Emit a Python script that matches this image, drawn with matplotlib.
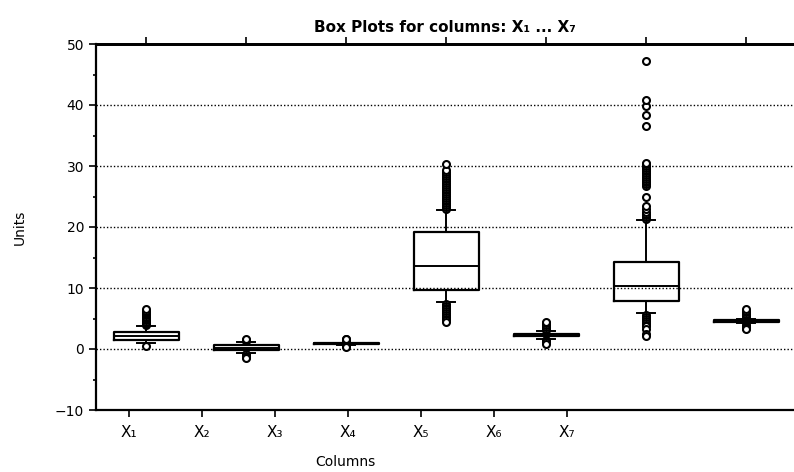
import matplotlib.pyplot as plt

# box statistics
labels = ['X₁', 'X₂', 'X₃', 'X₄', 'X₅', 'X₆', 'X₇']
q1 = [1.4, -0.2, 0.75, 9.6, 2.15, 7.9, 4.5]
med = [2.1, 0.1, 0.85, 13.6, 2.3, 10.3, 4.6]
q3 = [2.85, 0.6, 0.95, 19.1, 2.45, 14.2, 4.7]
whislo = [1.0, -0.7, 0.6, 7.75, 1.7, 5.9, 4.2]
whishi = [3.8, 1.1, 1.05, 22.8, 2.9, 21.1, 5.0]
fliers = [
    [3.9, 4.1, 4.3, 4.5, 4.7, 4.9, 5.1, 5.3, 5.5, 5.7, 5.9, 6.1, 6.3, 6.5, 0.5],
    [1.3, 1.5, 1.7, -0.9, -1.1, -1.3, -1.4],
    [1.2, 1.4, 1.6, 1.7, 0.45, 0.35],
    [23.0, 23.3, 23.6, 23.9, 24.2, 24.5, 24.8, 25.1, 25.4, 25.7, 26.0, 26.3,
     26.6, 26.9, 27.2, 27.5, 27.8, 28.1, 28.4, 28.7, 29.0, 29.3, 30.4,
     7.4, 7.1, 6.8, 6.5, 6.2, 5.9, 5.6, 5.3, 5.0, 4.7, 4.4],
    [3.1, 3.3, 3.6, 3.9, 4.2, 4.5, 1.5, 1.3, 1.1, 0.9],
    [21.3, 21.6, 21.9, 22.2, 22.5, 22.9, 23.4, 25.0, 26.7, 27.0, 27.3, 27.6,
     27.9, 28.2, 28.5, 28.8, 29.1, 29.4, 29.7, 30.0, 30.3, 30.5,
     36.5, 38.4, 39.8, 40.9, 47.2,
     5.5, 5.2, 4.9, 4.6, 4.3, 4.0, 3.7, 3.2, 2.5, 2.1],
    [5.2, 5.4, 5.6, 5.8, 6.0, 6.2, 6.5, 4.0, 3.8, 3.6, 3.4, 3.2],
]

stats = []
for i in range(len(labels)):
    stats.append(dict(label=labels[i], q1=q1[i], med=med[i], q3=q3[i],
                      whislo=whislo[i], whishi=whishi[i], fliers=fliers[i]))

fig = plt.figure(figsize=(7.94, 4.72), dpi=100)
ax = fig.add_axes([96 / 794, 62 / 472, 698 / 794, 366 / 472])

positions = list(range(1, len(labels) + 1))
ax.bxp(stats, positions=positions, widths=0.65, showfliers=True,
       boxprops=dict(color='black', linewidth=1.6),
       medianprops=dict(color='black', linewidth=1.4),
       whiskerprops=dict(color='black', linewidth=1.4),
       capprops=dict(color='black', linewidth=1.4),
       capwidths=0.18,
       flierprops=dict(marker='o', markersize=5, markerfacecolor='white',
                       markeredgecolor='black', markeredgewidth=1.5))

ax.set_xlim(0.5, 7.48)
ax.set_ylim(-10, 50)

# grid lines
for y in [0, 10, 20, 30, 40]:
    ax.axhline(y, color='black', linestyle=(0, (1, 1.5)), linewidth=1, zorder=0)

ax.set_yticks([-10, 0, 10, 20, 30, 40, 50])
ax.set_yticks([-5, 5, 15, 25, 35, 45], minor=True)
ax.tick_params(axis='y', which='major', length=5, width=1.2, labelsize=10)
ax.tick_params(axis='y', which='minor', length=2, width=1.2)

# bottom ticks sit on their own spacing (as in the original)
bottom_pos = [0.83 + 0.73 * k for k in range(len(labels))]
ax.set_xticks(bottom_pos)
ax.set_xticklabels(labels, fontsize=11)
ax.tick_params(axis='x', which='major', length=5, width=1.2, pad=6)

top = ax.secondary_xaxis('top')
top.set_xticks(positions)
top.set_xticklabels([])
top.tick_params(length=5, width=1.2)
top.spines['top'].set_linewidth(2)

for s in ['left', 'bottom']:
    ax.spines[s].set_linewidth(1.6)
ax.spines['right'].set_visible(False)
ax.spines['top'].set_linewidth(2)

ax.set_title('Box Plots for columns: X₁ ... X₇', fontsize=11, fontweight='bold',
             pad=9)
ax.set_ylabel('Units', fontsize=10, labelpad=20)
fig.text(345 / 794, 1 - 462 / 472, 'Columns', ha='center', va='center',
         fontsize=10)

fig.savefig('out.png', dpi=100)
